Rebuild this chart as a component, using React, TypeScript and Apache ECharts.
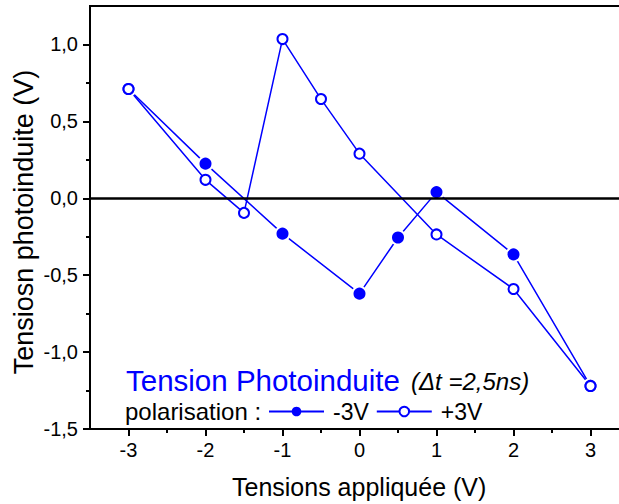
import React, { useEffect, useRef } from "react";
import * as echarts from "echarts";

const xTicks = [-3, -2, -1, 0, 1, 2, 3];
const xMinorTicks = [-2.5, -1.5, -0.5, 0.5, 1.5, 2.5];
const yTicks = [-1.5, -1, -0.5, 0, 0.5, 1];
const yMinorTicks = [-1.25, -0.75, -0.25, 0.25, 0.75];

const negName = "-3V";
const negX = [-3, -2, -1, 0, 0.5, 1, 2, 3];
const negY = [0.71, 0.225, -0.23, -0.62, -0.255, 0.04, -0.365, -1.22];

const posName = "+3V";
const posX = [-3, -2, -1.5, -1, -0.5, 0, 1, 2, 3];
const posY = [0.71, 0.12, -0.095, 1.035, 0.645, 0.29, -0.235, -0.59, -1.22];

const FONT = "'Liberation Sans', Arial, sans-serif";
const BLUE = "#0000ff";

const fmt = (v: number) => v.toFixed(1).replace(".", ",");

export default function App() {
  const ref = useRef<HTMLDivElement>(null);
  useEffect(() => {
    if (!ref.current) return;
    const chart = echarts.init(ref.current, null, { renderer: "svg" });
    const common = {
      type: "value" as const,
      splitLine: { show: false },
    };
    chart.setOption({
      animation: false,
      textStyle: { fontFamily: FONT },
      grid: {
        left: 90,
        top: 6,
        width: 539,
        height: 423,
        show: true,
        borderColor: "#000",
        borderWidth: 2,
        containLabel: false,
        outerBoundsMode: "none",
      },
      legend: {
        left: 268,
        top: 400,
        padding: 0,
        itemWidth: 55,
        itemHeight: 12,
        itemGap: 7,
        selectedMode: false,
        data: [
          { name: negName, itemStyle: { borderWidth: 0 } },
          { name: posName },
        ],
        textStyle: { fontSize: 23, color: "#000", fontFamily: FONT, padding: [0, 0, 0, 4] },
      },
      xAxis: [
        {
          ...common,
          min: -3.5,
          max: 3.5,
          position: "bottom",
          axisLine: { show: true, onZero: false, lineStyle: { color: "#000", width: 2 } },
          axisTick: { show: true, customValues: xTicks, length: 7, lineStyle: { color: "#000", width: 2 } },
          axisLabel: {
            customValues: xTicks,
            fontSize: 20,
            color: "#000",
            margin: 11,
            fontFamily: FONT,
            formatter: (v: number) => String(v),
          },
        },
        {
          ...common,
          min: -3.5,
          max: 3.5,
          position: "bottom",
          axisLine: { show: false, onZero: false },
          axisTick: { show: true, customValues: xMinorTicks, length: 4, lineStyle: { color: "#000", width: 2 } },
          axisLabel: { show: false },
        },
      ],
      yAxis: [
        {
          ...common,
          min: -1.5,
          max: 1.25,
          position: "left",
          axisLine: { show: true, onZero: false, lineStyle: { color: "#000", width: 2 } },
          axisTick: { show: true, customValues: yTicks, length: 7, lineStyle: { color: "#000", width: 2 } },
          axisLabel: {
            customValues: yTicks,
            fontSize: 20,
            color: "#000",
            margin: 12,
            fontFamily: FONT,
            formatter: (v: number) => fmt(v),
          },
        },
        {
          ...common,
          min: -1.5,
          max: 1.25,
          position: "left",
          axisLine: { show: false, onZero: false },
          axisTick: { show: true, customValues: yMinorTicks, length: 4, lineStyle: { color: "#000", width: 2 } },
          axisLabel: { show: false },
        },
      ],
      series: [
        {
          name: negName,
          type: "line",
          xAxisIndex: 0,
          yAxisIndex: 0,
          data: negX.map((x, i) => [x, negY[i]]),
          symbol: "circle",
          symbolSize: 14,
          lineStyle: { color: BLUE, width: 1.5 },
          itemStyle: { color: BLUE, borderColor: "#fff", borderWidth: 2 },
          markLine: {
            silent: true,
            symbol: "none",
            label: { show: false },
            lineStyle: { color: "#000", width: 2.5, type: "solid" },
            data: [{ yAxis: 0 }],
          },
        },
        {
          name: posName,
          type: "line",
          xAxisIndex: 0,
          yAxisIndex: 0,
          data: posX.map((x, i) => [x, posY[i]]),
          symbol: "emptyCircle",
          symbolSize: 10,
          lineStyle: { color: BLUE, width: 1.5 },
          itemStyle: { color: BLUE, borderColor: BLUE, borderWidth: 2 },
        },
      ],
      graphic: [
        {
          type: "text",
          left: 126,
          top: 365,
          style: { text: "Tension Photoinduite", fill: BLUE, fontSize: 29.5, fontFamily: FONT },
        },
        {
          type: "text",
          left: 411,
          top: 369,
          style: { text: "(\u0394t =2,5ns)", fill: "#000", fontSize: 24, fontStyle: "italic", fontFamily: FONT },
        },
        {
          type: "text",
          left: 125,
          top: 399,
          style: { text: "polarisation :", fill: "#000", fontSize: 24, fontFamily: FONT },
        },
        {
          type: "text",
          left: 232,
          top: 474,
          style: { text: "Tensions appliquée (V)", fill: "#000", fontSize: 25, fontFamily: FONT },
        },
        {
          type: "text",
          x: 24,
          y: 222,
          rotation: Math.PI / 2,
          style: {
            text: "Tensiosn photoinduite (V)",
            fill: "#000",
            fontSize: 27,
            fontFamily: FONT,
            align: "center",
            verticalAlign: "middle",
          },
        },
      ],
    });
    return () => chart.dispose();
  }, []);
  return (
    <div
      ref={ref}
      style={{ position: "fixed", left: 0, top: 0, width: 619, height: 504, background: "#fff" }}
    />
  );
}
